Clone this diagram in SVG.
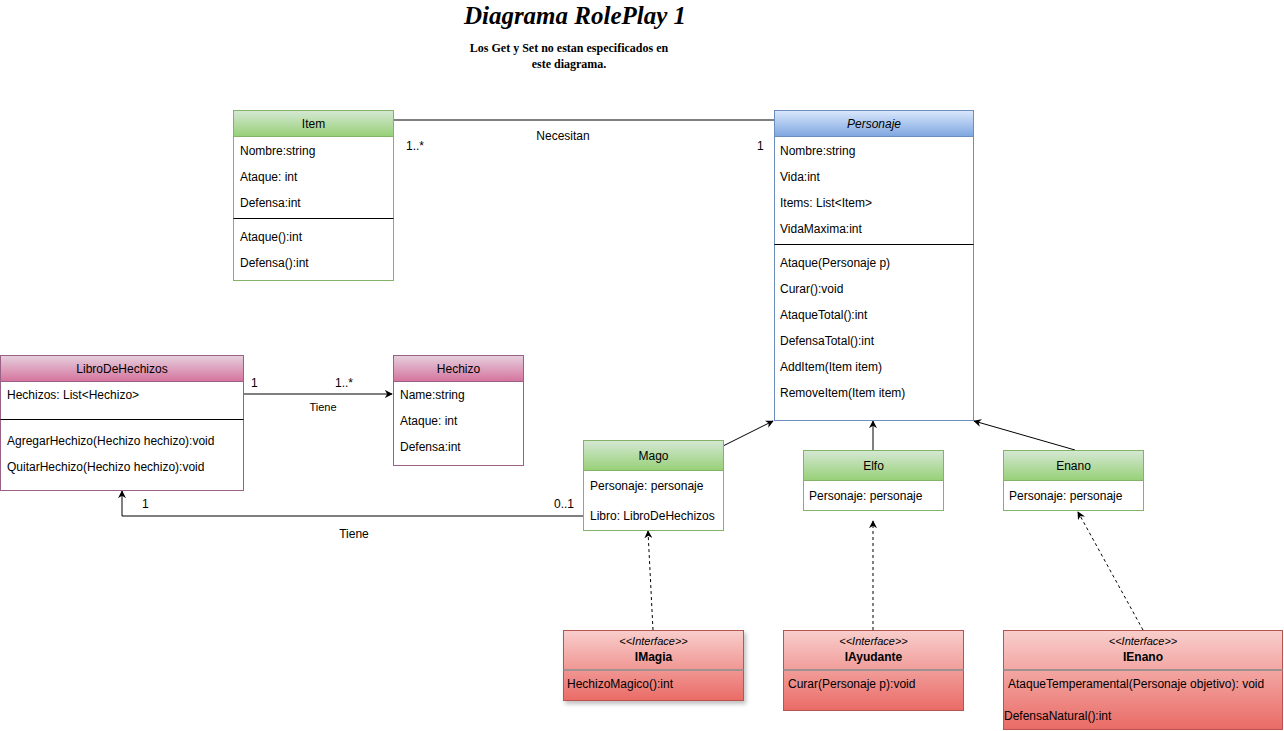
<svg xmlns="http://www.w3.org/2000/svg" width="1284" height="731" viewBox="0 0 1284 731">
<style>
text{font-family:"Liberation Sans",Arial,sans-serif;font-size:12px;fill:#000}
.c{text-anchor:middle}
.ttl{font-family:"Liberation Serif","Times New Roman",serif;font-weight:bold;font-style:italic;font-size:25px}
.sub{font-family:"Liberation Serif","Times New Roman",serif;font-weight:bold;font-size:12px}
.g{stroke:#82b366;fill:#fff}
.gh{fill:url(#gg);stroke:#82b366}
.bh{fill:url(#gb);stroke:#6c8ebf}
.b{stroke:#6c8ebf;fill:#fff}
.p{stroke:#996185;fill:#fff}
.ph{fill:url(#gp);stroke:#996185}
.r{fill:url(#gr);stroke:#b85450}
.sep{stroke:#000;stroke-width:1}
.rsep{stroke:#a09090;stroke-width:2}
.ln{stroke:#000;stroke-width:1;fill:none}
.dl{stroke:#000;stroke-width:1;fill:none;stroke-dasharray:3 3}
.it{font-style:italic}
.bd{font-weight:bold}
.sm{font-size:11px}
</style>
<defs>
<linearGradient id="gg" x1="0" y1="0" x2="0" y2="1"><stop offset="0" stop-color="#d5e8d4"/><stop offset="1" stop-color="#97d077"/></linearGradient>
<linearGradient id="gb" x1="0" y1="0" x2="0" y2="1"><stop offset="0" stop-color="#dae8fc"/><stop offset="1" stop-color="#7ea6e0"/></linearGradient>
<linearGradient id="gp" x1="0" y1="0" x2="0" y2="1"><stop offset="0" stop-color="#e6d0de"/><stop offset="1" stop-color="#d5739d"/></linearGradient>
<linearGradient id="gr" x1="0" y1="0" x2="0" y2="1"><stop offset="0" stop-color="#f8cecc"/><stop offset="1" stop-color="#ea6b66"/></linearGradient>
<marker id="ar" viewBox="0 0 10 10" refX="9" refY="5" markerWidth="8" markerHeight="8" markerUnits="userSpaceOnUse" orient="auto">
<path d="M0,0 L10,5 L0,10 L3,5 Z" fill="#000"/>
</marker>
<filter id="sh" x="-10%" y="-10%" width="130%" height="140%"><feDropShadow dx="2" dy="3" stdDeviation="2" flood-color="#000" flood-opacity="0.25"/></filter>
</defs>

<g id="title">
<text class="ttl c" x="575" y="24">Diagrama RolePlay 1</text>
<text class="sub c" x="569" y="52">Los Get y Set no estan especificados en</text>
<text class="sub c" x="569" y="68">este diagrama.</text>
</g>

<g id="connectors">
<line class="ln" x1="393" y1="120" x2="774" y2="120"/>
<text class="c" x="563" y="140">Necesitan</text>
<text x="406" y="150">1..*</text>
<text x="757" y="150">1</text>

<line class="ln" x1="243" y1="394" x2="392" y2="394" marker-end="url(#ar)"/>
<text x="251" y="387">1</text>
<text x="335" y="387">1..*</text>
<text class="sm c" x="323" y="411">Tiene</text>

<polyline class="ln" points="583,516 122,516 122,491" marker-end="url(#ar)"/>
<text x="142" y="508">1</text>
<text x="554" y="508">0..1</text>
<text class="c" x="354" y="538">Tiene</text>

<line class="ln" x1="723" y1="446" x2="773" y2="421" marker-end="url(#ar)"/>
<line class="ln" x1="873" y1="450" x2="873" y2="421" marker-end="url(#ar)"/>
<line class="ln" x1="1075" y1="450" x2="974" y2="421" marker-end="url(#ar)"/>

<line class="dl" x1="653" y1="630" x2="648" y2="531" marker-end="url(#ar)"/>
<line class="dl" x1="873" y1="630" x2="873" y2="521" marker-end="url(#ar)"/>
<line class="dl" x1="1143" y1="630" x2="1078" y2="512" marker-end="url(#ar)"/>
</g>

<g id="Item">
<rect class="g" x="233.5" y="110.5" width="160" height="170"/>
<rect class="gh" x="233.5" y="110.5" width="160" height="26"/>
<text class="c" x="313.5" y="128">Item</text>
<text x="240" y="155">Nombre:string</text>
<text x="240" y="181">Ataque: int</text>
<text x="240" y="207">Defensa:int</text>
<line class="sep" x1="233.5" y1="218.5" x2="393.5" y2="218.5"/>
<text x="240" y="241">Ataque():int</text>
<text x="240" y="267">Defensa():int</text>
</g>

<g id="Personaje">
<rect class="b" x="774.5" y="110.5" width="199" height="310"/>
<rect class="bh" x="774.5" y="110.5" width="199" height="26"/>
<text class="c it" x="874" y="128">Personaje</text>
<text x="780" y="155">Nombre:string</text>
<text x="780" y="181">Vida:int</text>
<text x="780" y="207">Items: List&lt;Item&gt;</text>
<text x="780" y="233">VidaMaxima:int</text>
<line class="sep" x1="774.5" y1="244.5" x2="973.5" y2="244.5"/>
<text x="780" y="267">Ataque(Personaje p)</text>
<text x="780" y="293">Curar():void</text>
<text x="780" y="319">AtaqueTotal():int</text>
<text x="780" y="345">DefensaTotal():int</text>
<text x="780" y="371">AddItem(Item item)</text>
<text x="780" y="397">RemoveItem(Item item)</text>
</g>

<g id="LibroDeHechizos">
<rect class="p" x="0.5" y="355.5" width="243" height="135"/>
<rect class="ph" x="0.5" y="355.5" width="243" height="26"/>
<text class="c" x="122" y="373">LibroDeHechizos</text>
<text x="7" y="399">Hechizos: List&lt;Hechizo&gt;</text>
<line class="sep" x1="0.5" y1="419.5" x2="243.5" y2="419.5"/>
<text x="7" y="445">AgregarHechizo(Hechizo hechizo):void</text>
<text x="7" y="471">QuitarHechizo(Hechizo hechizo):void</text>
</g>

<g id="Hechizo">
<rect class="p" x="393.5" y="355.5" width="130" height="110"/>
<rect class="ph" x="393.5" y="355.5" width="130" height="26"/>
<text class="c" x="458.5" y="373">Hechizo</text>
<text x="400" y="399">Name:string</text>
<text x="400" y="425">Ataque: int</text>
<text x="400" y="451">Defensa:int</text>
</g>

<g id="Mago">
<rect class="g" x="583.5" y="440.5" width="140" height="90"/>
<rect class="gh" x="583.5" y="440.5" width="140" height="30"/>
<text class="c" x="653.5" y="460">Mago</text>
<text x="590" y="490">Personaje: personaje</text>
<text x="590" y="520">Libro: LibroDeHechizos</text>
</g>

<g id="Elfo">
<rect class="g" x="803.5" y="450.5" width="140" height="60"/>
<rect class="gh" x="803.5" y="450.5" width="140" height="30"/>
<text class="c" x="873.5" y="470">Elfo</text>
<text x="809" y="500">Personaje: personaje</text>
</g>

<g id="Enano">
<rect class="g" x="1003.5" y="450.5" width="140" height="60"/>
<rect class="gh" x="1003.5" y="450.5" width="140" height="30"/>
<text class="c" x="1073.5" y="470">Enano</text>
<text x="1009" y="500">Personaje: personaje</text>
</g>

<g id="IMagia">
<rect class="r" x="563.5" y="630.5" width="180" height="70" filter="url(#sh)"/>
<text class="c it sm" x="653.5" y="645">&lt;&lt;Interface&gt;&gt;</text>
<text class="c bd" x="653.5" y="661">IMagia</text>
<line class="rsep" x1="563.5" y1="670" x2="743.5" y2="670"/>
<text x="567" y="688">HechizoMagico():int</text>
</g>

<g id="IAyudante">
<rect class="r" x="783.5" y="630.5" width="180" height="80"/>
<text class="c it sm" x="873.5" y="645">&lt;&lt;Interface&gt;&gt;</text>
<text class="c bd" x="873.5" y="661">IAyudante</text>
<line class="rsep" x1="783.5" y1="670" x2="963.5" y2="670"/>
<text x="788" y="688">Curar(Personaje p):void</text>
</g>

<g id="IEnano">
<rect class="r" x="1003.5" y="630.5" width="279" height="99"/>
<text class="c it sm" x="1143" y="645">&lt;&lt;Interface&gt;&gt;</text>
<text class="c bd" x="1143" y="661">IEnano</text>
<line class="rsep" x1="1003.5" y1="670" x2="1282.5" y2="670"/>
<text x="1008" y="688">AtaqueTemperamental(Personaje objetivo): void</text>
<text x="1004" y="720">DefensaNatural():int</text>
</g>
</svg>
